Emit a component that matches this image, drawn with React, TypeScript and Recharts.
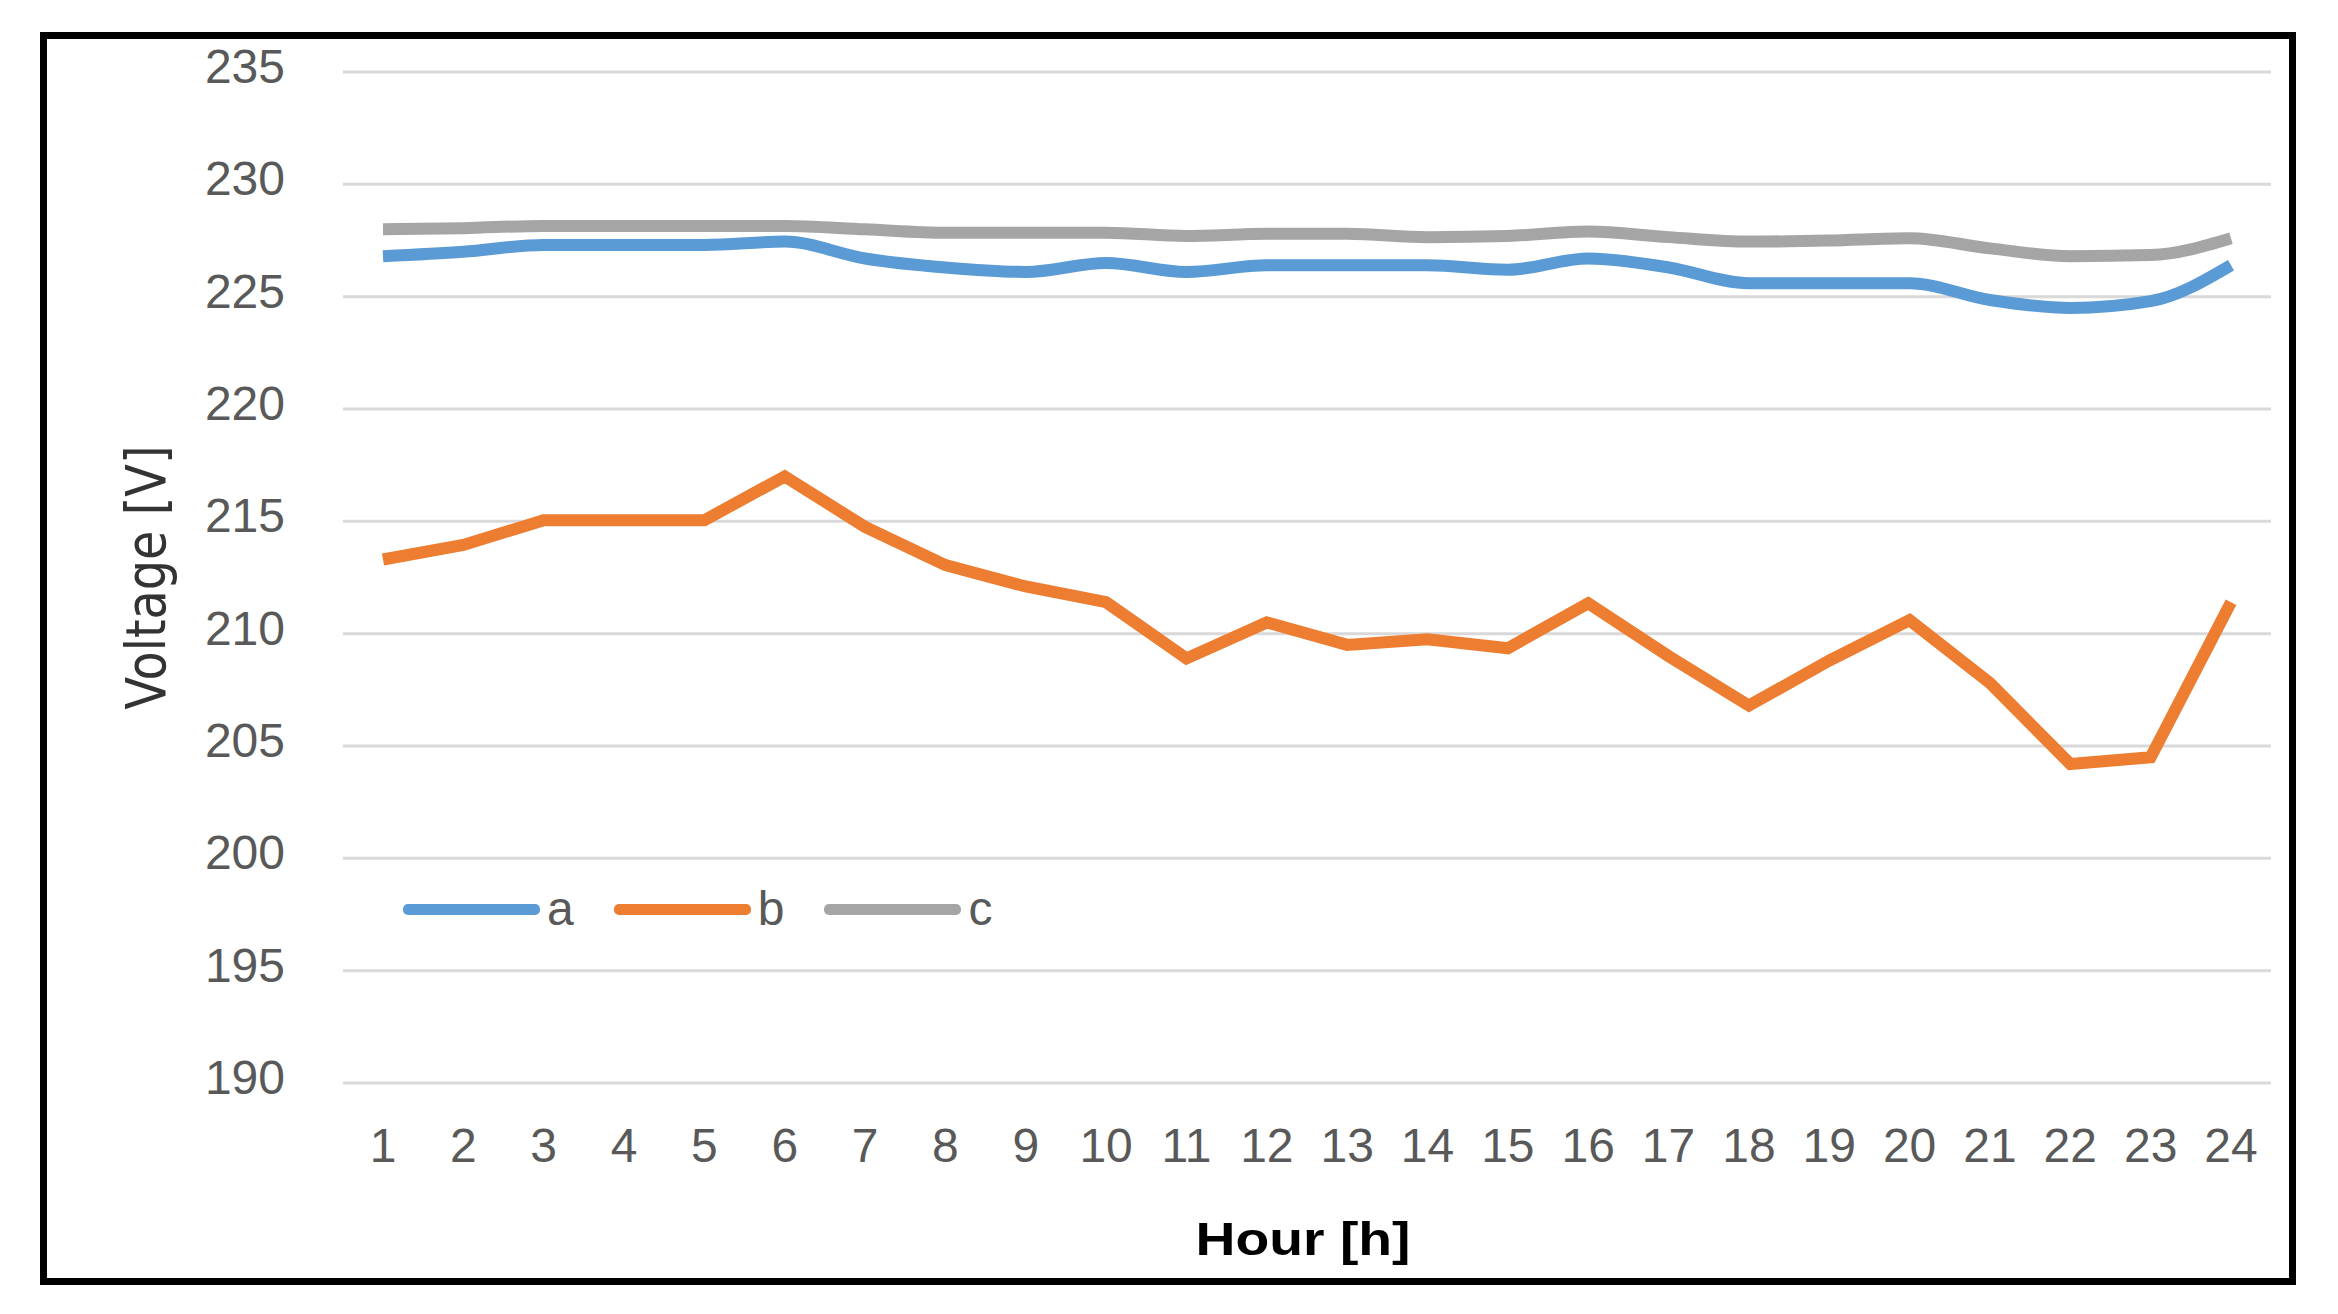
import React from 'react';
import { LineChart, Line, XAxis, YAxis, CartesianGrid, Legend, Label } from 'recharts';

const hours = ['1', '2', '3', '4', '5', '6', '7', '8', '9', '10', '11', '12', '13', '14', '15', '16', '17', '18', '19', '20', '21', '22', '23', '24'];
const seriesA = [226.8, 227.0, 227.3, 227.3, 227.3, 227.45, 226.7, 226.3, 226.1, 226.5, 226.1, 226.4, 226.4, 226.4, 226.2, 226.7, 226.3, 225.6, 225.6, 225.6, 224.85, 224.5, 224.8, 226.4];
const seriesB = [213.3, 213.95, 215.05, 215.05, 215.05, 217.0, 214.75, 213.05, 212.1, 211.4, 208.9, 210.5, 209.5, 209.75, 209.35, 211.35, 209.0, 206.8, 208.8, 210.6, 207.8, 204.2, 204.5, 211.4];
const seriesC = [228.0, 228.05, 228.15, 228.15, 228.15, 228.15, 228.0, 227.85, 227.85, 227.85, 227.7, 227.8, 227.8, 227.65, 227.7, 227.9, 227.65, 227.45, 227.5, 227.6, 227.15, 226.8, 226.85, 227.6];
const yTicks = [190, 195, 200, 205, 210, 215, 220, 225, 230, 235];

const SERIES = [
    { key: 'a', name: 'a', color: '#5B9BD5', curve: 'monotone' },
    { key: 'b', name: 'b', color: '#ED7D31', curve: 'linear' },
    { key: 'c', name: 'c', color: '#A5A5A5', curve: 'monotone' },
];

const data = hours.map((h, i) => ({ hour: h, a: seriesA[i], b: seriesB[i], c: seriesC[i] }));

const TICK_FONT = '"Liberation Sans", Arial, sans-serif';

const XTick = ({ x, y, payload }: any) => (
    <text x={x} y={y} dy={79} textAnchor="middle" fontFamily={TICK_FONT} fontSize={48} fill="#595959">
        {payload.value}
    </text>
);

const YTick = ({ x, y, payload }: any) => (
    <text x={x} y={y} dx={-58} dy={11} textAnchor="end" fontFamily={TICK_FONT} fontSize={48} fill="#595959">
        {payload.value}
    </text>
);

const VoltageLabel = ({ viewBox }: any) => {
    const cx = viewBox.x + 65;
    const cy = viewBox.y + viewBox.height / 2;
    return (
        <text
            x={cx}
            y={cy}
            transform={`rotate(-90, ${cx}, ${cy})`}
            textAnchor="middle"
            fontFamily='"DejaVu Sans", sans-serif'
            fontSize={56}
            fill="#333"
            textLength={264}
            lengthAdjust="spacingAndGlyphs"
        >
            Voltage [V]
        </text>
    );
};

const HourLabel = ({ viewBox }: any) => (
    <text
        x={viewBox.x + viewBox.width / 2 - 4}
        y={viewBox.y + 172}
        textAnchor="middle"
        fontFamily={TICK_FONT}
        fontWeight="bold"
        fontSize={46}
        fill="#000"
        textLength={215}
        lengthAdjust="spacingAndGlyphs"
    >
        Hour [h]
    </text>
);

const LegendContent = () => (
    <div style={{ display: 'flex', alignItems: 'center' }}>
        {SERIES.map((s) => (
            <div key={s.key} style={{ display: 'flex', alignItems: 'center', marginRight: 40 }}>
                <span style={{ display: 'inline-block', width: 137, height: 11, background: s.color, borderRadius: 5 }} />
                <span style={{ marginLeft: 7, fontFamily: TICK_FONT, fontSize: 48, lineHeight: '48px', color: '#595959' }}>{s.name}</span>
            </div>
        ))}
    </div>
);

const App: React.FC = () => {
    return (
        <div style={{ position: 'absolute', left: 0, top: 0, width: 2338, height: 1314, background: '#fff' }}>
            <LineChart width={2338} height={1314} data={data} margin={{ top: 72, right: 67, bottom: 171, left: 100 }}>
                <CartesianGrid horizontal vertical={false} stroke="#D9D9D9" strokeWidth={3} />
                <XAxis
                    dataKey="hour"
                    axisLine={false}
                    tickLine={false}
                    tickSize={0}
                    tickMargin={0}
                    height={60}
                    tick={<XTick />}
                    interval={0}
                    padding={{ left: 40, right: 40 }}
                >
                    <Label content={<HourLabel />} />
                </XAxis>
                <YAxis
                    domain={[190, 235]}
                    ticks={yTicks}
                    axisLine={false}
                    tickLine={false}
                    tickSize={0}
                    tickMargin={0}
                    width={243}
                    tick={<YTick />}
                    interval={0}
                >
                    <Label content={<VoltageLabel />} />
                </YAxis>
                <Legend
                    verticalAlign="middle"
                    content={<LegendContent />}
                    wrapperStyle={{ left: 403, top: 885, width: 'auto', bottom: 'auto' }}
                />
                {SERIES.map((s) => (
                    <Line
                        key={s.key}
                        type={s.curve as any}
                        dataKey={s.key}
                        name={s.name}
                        stroke={s.color}
                        strokeWidth={12}
                        dot={false}
                        activeDot={false}
                        isAnimationActive={false}
                    />
                ))}
            </LineChart>
            <div
                style={{
                    position: 'absolute',
                    left: 40,
                    top: 32,
                    width: 2256,
                    height: 1253,
                    border: '7px solid #000',
                    boxSizing: 'border-box',
                    pointerEvents: 'none',
                }}
            />
        </div>
    );
};

export default App;
